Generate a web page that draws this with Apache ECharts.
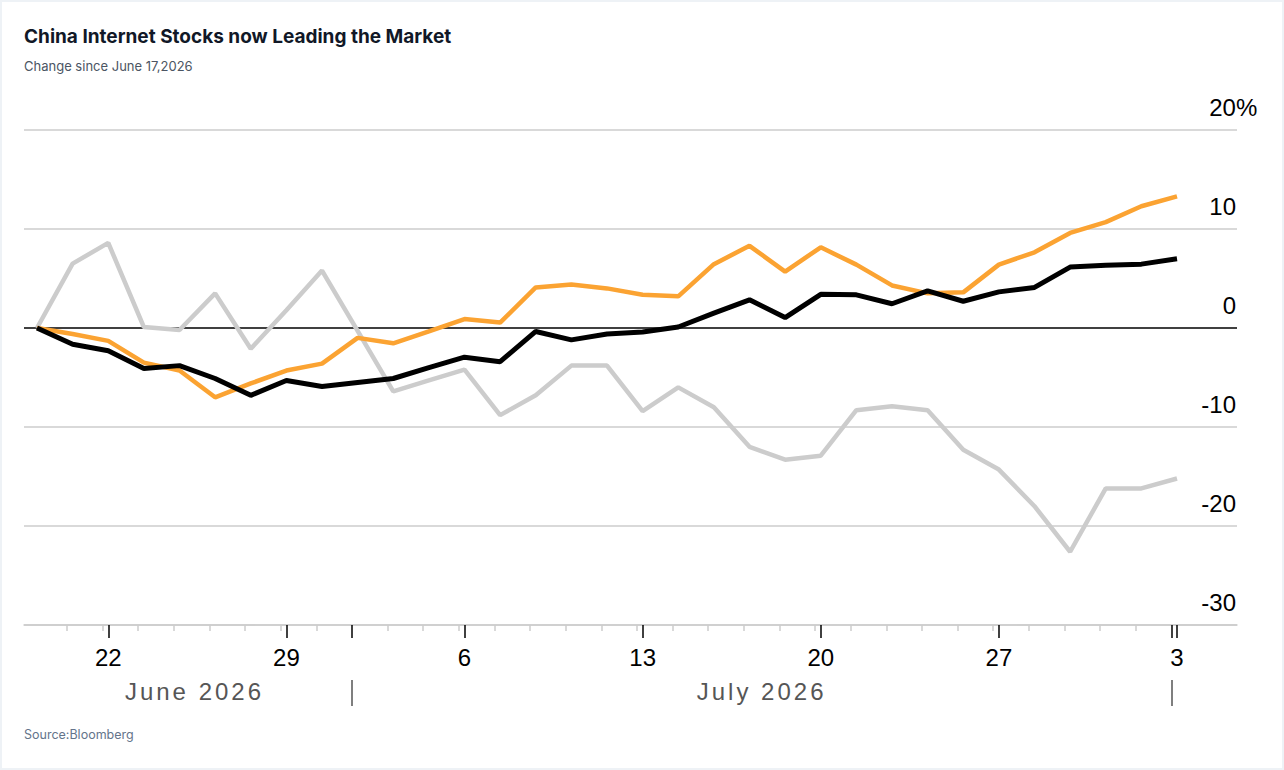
<!DOCTYPE html>
<html>
<head>
<meta charset="utf-8">
<title>China Internet Stocks now Leading the Market</title>
<script src="https://cdn.jsdelivr.net/npm/echarts@6.0.0/dist/echarts.min.js"></script>
<style>
  html, body { margin: 0; padding: 0; background: #fff; }
  #main { width: 1284px; height: 770px; box-shadow: inset 0 0 0 2px #eef2f6; }
  /* month row is set with wide tracking */
  #main text[fill="#565656"] { letter-spacing: 3px; }
</style>
</head>
<body>
<div id="main"></div>
<script>
// trading days shown on the x axis
var dates = [
  '2026-06-18', '2026-06-19',
  '2026-06-22', '2026-06-23', '2026-06-24', '2026-06-25', '2026-06-26',
  '2026-06-29', '2026-06-30', '2026-07-01', '2026-07-02', '2026-07-03',
  '2026-07-06', '2026-07-07', '2026-07-08', '2026-07-09', '2026-07-10',
  '2026-07-13', '2026-07-14', '2026-07-15', '2026-07-16', '2026-07-17',
  '2026-07-20', '2026-07-21', '2026-07-22', '2026-07-23', '2026-07-24',
  '2026-07-27', '2026-07-28', '2026-07-29', '2026-07-30', '2026-07-31',
  '2026-08-03'
];
var monthLabels = ['June 2026', 'July 2026'];

// % change since June 17
var chinaInternet = [0, -0.6, -1.3, -3.5, -4.3, -7.0, -5.6, -4.3, -3.6, -1.0, -1.55,
  -0.35, 0.9, 0.55, 4.1, 4.4, 4.0, 3.35, 3.2, 6.45, 8.3, 5.7, 8.15, 6.4, 4.3, 3.5,
  3.6, 6.4, 7.65, 9.6, 10.7, 12.3, 13.3];
var market = [0, -1.65, -2.3, -4.1, -3.8, -5.1, -6.8, -5.3, -5.9, -5.5, -5.1,
  -4.0, -2.95, -3.4, -0.35, -1.2, -0.6, -0.4, 0.1, 1.5, 2.85, 1.05, 3.4, 3.35, 2.45,
  3.75, 2.7, 3.65, 4.1, 6.15, 6.35, 6.45, 7.0];
var other = [0, 6.5, 8.6, 0.1, -0.2, 3.5, -2.1, 1.8, 5.8, -0.3, -6.4,
  -5.3, -4.2, -8.8, -6.8, -3.8, -3.8, -8.4, -6.0, -8.0, -12.0, -13.3, -12.9, -8.3, -7.9,
  -8.3, -12.3, -14.3, -18.0, -22.6, -16.2, -16.2, -15.2];

var yTicks = [-30, -20, -10, 0, 10, 20];

// layout of the index axis (first point 13px inside the grid, last 60px before its end)
var step = (1177 - 37) / 32;
var xMin = -13 / step;
var xMax = 32 + 60 / step;
var tickShift = 0.16;

var mondays = [], monthStarts = [];
dates.forEach(function (d, i) {
  if (new Date(d + 'T00:00:00Z').getUTCDay() === 1) mondays.push(i);
  if (i > 0 && d.slice(5, 7) !== dates[i - 1].slice(5, 7)) monthStarts.push(i);
});
var boundaries = monthStarts.map(function (i) { return i - tickShift; });
var minorTicks = [];
for (var i = 1; i < dates.length; i++) {
  if (monthStarts.indexOf(i) < 0) minorTicks.push(i - tickShift);
}
var edges = [0].concat(boundaries);
var monthCenters = [];
for (var k = 0; k < edges.length - 1; k++) monthCenters.push((edges[k] + edges[k + 1]) / 2);

function pairs(arr) {
  return arr.map(function (v, i) { return [i, v]; });
}

var font = 'Liberation Sans';

var option = {
  animation: false,
  title: [{
    text: 'China Internet Stocks now Leading the Market',
    subtext: 'Change since June 17,2026',
    left: 24,
    top: 27,
    padding: 0,
    itemGap: 13,
    textStyle: { fontFamily: 'Inter', fontSize: 19, fontWeight: 'bold', color: '#111827' },
    subtextStyle: { fontFamily: 'Inter', fontSize: 13, color: '#4b5563' }
  }, {
    text: 'Source:Bloomberg',
    left: 24,
    top: 728,
    padding: 0,
    textStyle: { fontFamily: 'Inter', fontSize: 12.5, fontWeight: 'normal', color: '#64748b' }
  }],
  grid: { left: 24, right: 47, top: 130, bottom: 145 },
  xAxis: [{
    type: 'value',
    position: 'bottom',
    min: xMin,
    max: xMax,
    splitLine: { show: false },
    axisLine: { show: true, onZero: false, lineStyle: { color: '#cccccc', width: 1.5 } },
    axisTick: {
      show: true,
      customValues: mondays.concat(boundaries),
      length: 13,
      lineStyle: { color: '#000', width: 1.5 }
    },
    axisLabel: {
      customValues: mondays,
      formatter: function (v) { return String(+dates[Math.round(v)].slice(8)); },
      fontFamily: font,
      fontSize: 24,
      color: '#000',
      margin: 20
    }
  }, {
    type: 'value',
    position: 'bottom',
    min: xMin,
    max: xMax,
    splitLine: { show: false },
    axisLine: { show: false, onZero: false },
    axisTick: {
      show: true,
      customValues: minorTicks,
      length: 6,
      lineStyle: { color: '#cccccc', width: 1.5 }
    },
    axisLabel: { show: false }
  }, {
    type: 'value',
    position: 'bottom',
    offset: 55,
    min: xMin,
    max: xMax,
    splitLine: { show: false },
    axisLine: { show: false, onZero: false },
    axisTick: {
      show: true,
      customValues: boundaries,
      length: 26,
      lineStyle: { color: '#555', width: 1.5 }
    },
    axisLabel: {
      customValues: monthCenters,
      formatter: function (v) {
        var idx = monthCenters.findIndex(function (c) { return Math.abs(c - v) < 1e-6; });
        return monthLabels[idx] || '';
      },
      fontFamily: font,
      fontSize: 24,
      color: '#565656',
      margin: -1
    }
  }],
  yAxis: {
    type: 'value',
    position: 'right',
    min: -30,
    max: 20,
    interval: 10,
    axisLine: { show: false },
    axisTick: { show: false },
    splitLine: {
      show: true,
      lineStyle: {
        color: yTicks.map(function (v) { return v === 0 ? '#000' : '#cccccc'; }),
        width: 1.5
      }
    },
    axisLabel: {
      inside: true,
      align: 'right',
      verticalAlign: 'bottom',
      margin: 1,
      padding: [0, 0, 11, 0],
      lineHeight: 24,
      formatter: function (v) {
        return v === 20 ? '{n|20}{p|%}' : '{n|' + v + '}';
      },
      rich: {
        n: { fontFamily: font, fontSize: 24, color: '#000', lineHeight: 24, align: 'left' },
        p: { fontFamily: font, fontSize: 24, color: '#000', lineHeight: 24, align: 'left', width: 0.1 }
      }
    }
  },
  series: [{
    name: 'other',
    type: 'line',
    data: pairs(other),
    symbol: 'none',
    lineStyle: { color: '#cccccc', width: 4.5 }
  }, {
    name: 'chinaInternet',
    type: 'line',
    data: pairs(chinaInternet),
    symbol: 'none',
    lineStyle: { color: '#fba332', width: 4.5 }
  }, {
    name: 'market',
    type: 'line',
    data: pairs(market),
    symbol: 'none',
    lineStyle: { color: '#000', width: 5 }
  }]
};

var myChart = echarts.init(document.getElementById('main'), null, { renderer: 'svg' });
myChart.setOption(option);
</script>
</body>
</html>
